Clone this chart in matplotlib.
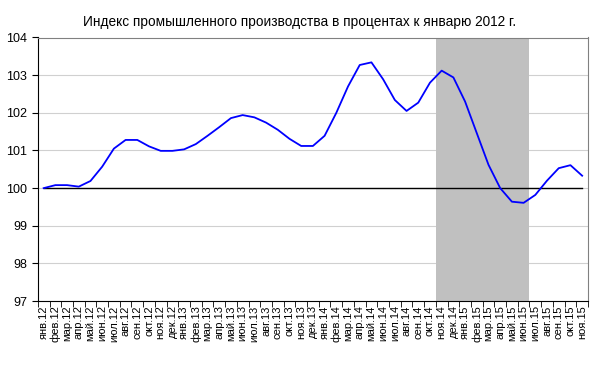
import matplotlib
matplotlib.use("Agg")
import matplotlib.pyplot as plt
import numpy as np

plt.rcParams["font.family"] = ["Liberation Sans", "DejaVu Sans"]

months = ["янв", "фев", "мар", "апр", "май", "июн",
          "июл", "авг", "сен", "окт", "ноя", "дек"]
years = ["12", "13", "14", "15"]
labels = [f"{m}.{y}" for y in years for m in months][:47]

index_values = [
    100.00, 100.08, 100.08, 100.04, 100.19, 100.57, 101.05, 101.28, 101.28, 101.11,
    100.99, 100.99, 101.03, 101.17, 101.39, 101.62, 101.86, 101.94, 101.88, 101.74,
    101.55, 101.31, 101.12, 101.12, 101.39, 102.00, 102.70, 103.27, 103.34, 102.89,
    102.34, 102.05, 102.27, 102.80, 103.12, 102.94, 102.30, 101.46, 100.62, 100.00,
    99.64, 99.61, 99.82, 100.20, 100.53, 100.61, 100.33,
]
baseline = 100.0
shade_start, shade_end = "ноя.14", "июн.15"

x = np.arange(len(labels))

fig = plt.figure(figsize=(6, 3.75), dpi=100)
ax = fig.add_axes([0.063, 0.197, 0.917, 0.703])

i0, i1 = labels.index(shade_start), labels.index(shade_end)
ax.axvspan(i0 - 0.5, i1 + 0.5, color="#c0c0c0", lw=0, zorder=1)
ax.plot(x, [baseline] * len(x), color="black", lw=1.0, zorder=2)
ax.plot(x, index_values, color="#0000ff", lw=1.3, zorder=3)

ax.set_xlim(-0.5, len(labels) - 0.5)
ax.set_ylim(97, 104)
ax.set_yticks(range(97, 105))
ax.yaxis.grid(True, color="#d0d0d0", lw=0.8, zorder=0)
ax.set_axisbelow(True)

ax.set_xticks(x)
ax.set_xticklabels(labels, rotation=90, fontsize=8)
ax.set_xticks(np.arange(-0.5, len(labels)), minor=True)
ax.tick_params(axis="x", which="major", length=0, pad=3)
ax.tick_params(axis="x", which="minor", length=4, color="black", direction="out")
ax.tick_params(axis="y", labelsize=9, length=4, direction="out")

for side in ["left", "bottom"]:
    ax.spines[side].set_color("black")
for side in ["top", "right"]:
    ax.spines[side].set_color("#808080")

fig.suptitle("Индекс промышленного производства в процентах к январю 2012 г.",
             fontsize=9.8, y=0.96)

fig.savefig("out.png", dpi=100)
